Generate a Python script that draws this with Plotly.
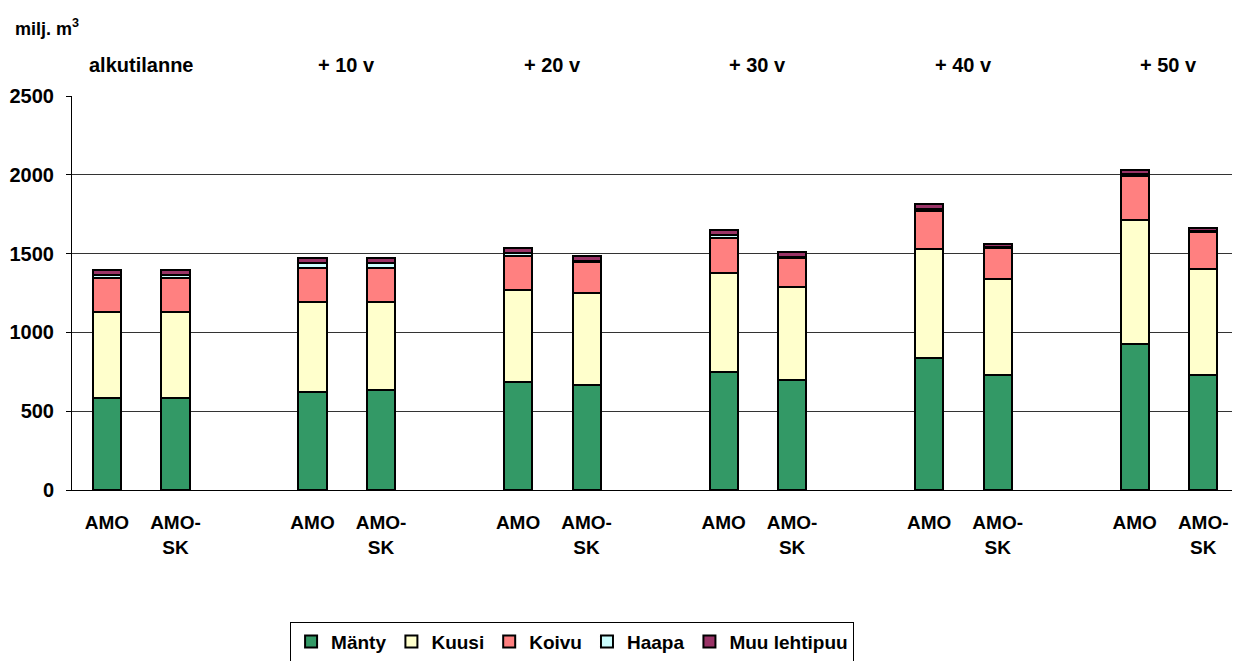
import plotly.graph_objects as go

# Stand volume by tree species, million m3, for two scenarios over 50 years
periods = ["alkutilanne", "+ 10 v", "+ 20 v", "+ 30 v", "+ 40 v", "+ 50 v"]
scenarios = ["AMO", "AMO-<br>SK"]

manty = [583, 583, 624, 636, 685, 664, 751, 700, 838, 730, 928, 728]
kuusi = [545, 545, 571, 559, 584, 584, 624, 586, 689, 607, 785, 672]
koivu = [215, 215, 212, 212, 216, 197, 222, 184, 245, 197, 279, 235]
haapa = [22, 22, 33, 33, 20, 10, 23, 8, 10, 6, 10, 7]
muu = [30, 30, 35, 35, 30, 30, 30, 32, 33, 20, 28, 18]

species = [
    ("Mänty", manty, "#339966"),
    ("Kuusi", kuusi, "#FFFFCC"),
    ("Koivu", koivu, "#FF8080"),
    ("Haapa", haapa, "#CCFFFF"),
    ("Muu lehtipuu", muu, "#993366"),
]

# each period takes three slots: two bars and a gap
xpos = [3 * g + s for g in range(len(periods)) for s in range(len(scenarios))]
xlabels = [scenarios[s] for g in range(len(periods)) for s in range(len(scenarios))]

FONT = "Liberation Sans"

fig = go.Figure()
for name, vals, color in species:
    fig.add_trace(go.Bar(
        x=xpos, y=vals, name=name, width=0.41,
        marker=dict(color=color, line=dict(color="black", width=2)),
    ))

for g, label in enumerate(periods):
    fig.add_annotation(
        x=3 * g + 0.5, y=1.079, xref="x", yref="paper", yanchor="middle",
        text=label, showarrow=False,
        font=dict(family=FONT, size=20, color="black", weight="bold"),
    )

fig.add_annotation(
    x=-0.051, y=1.173, xref="paper", yref="paper",
    xanchor="left", yanchor="middle",
    text="milj. m<sup>3</sup>", showarrow=False,
    font=dict(family=FONT, size=18, color="black", weight="bold"),
)

fig.update_layout(
    width=1234, height=661,
    margin=dict(l=72, r=2, t=96, b=171, autoexpand=False),
    barmode="stack",
    plot_bgcolor="white", paper_bgcolor="white",
    font=dict(family=FONT, size=18, color="black", weight="bold"),
    legend=dict(
        orientation="h", x=0.188, y=-0.334, xanchor="left", yanchor="top",
        bordercolor="black", borderwidth=1,
        font=dict(family=FONT, size=19, color="black", weight="bold"),
        itemwidth=30, traceorder="normal",
    ),
    xaxis=dict(
        range=[-0.51, 16.42], tickvals=xpos, ticktext=xlabels,
        showline=True, linecolor="black", linewidth=1, ticks="",
        showgrid=False, zeroline=False, ticklabelstandoff=15,
        tickfont=dict(family=FONT, size=19, color="black", weight="bold"),
    ),
    yaxis=dict(
        range=[0, 2500], tickvals=[0, 500, 1000, 1500, 2000, 2500],
        showline=True, linecolor="black", linewidth=1,
        ticks="outside", ticklen=5, tickcolor="black",
        showgrid=True, gridcolor="#333333", gridwidth=1, zeroline=False,
        ticklabelstandoff=8,
        tickfont=dict(family=FONT, size=20, color="black", weight="bold"),
    ),
)

fig.write_html("out.html")
